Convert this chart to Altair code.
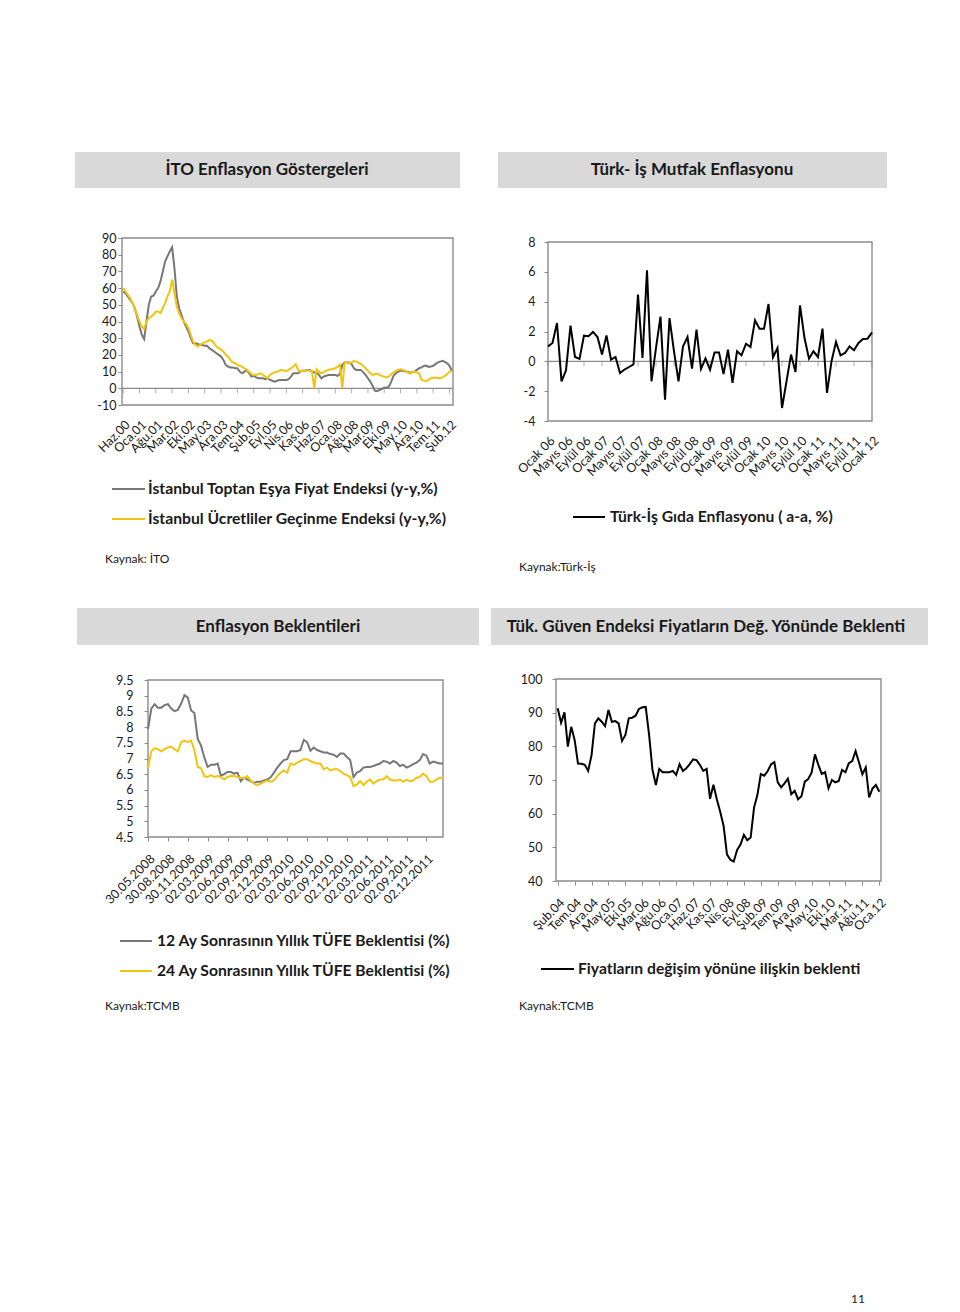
import json
import pandas as pd
import altair as alt

# ---------------- data ----------------
ito_toptan = [58, 57, 55, 53, 51, 48, 43, 37, 32, 29.5,
              40, 50, 55, 55.5, 58, 60, 64, 70, 76, 79,
              82, 84.5, 72, 55, 48, 44, 40, 37, 34, 30,
              27, 27, 26.5, 26, 26, 25.5, 25.5, 24, 23, 22,
              21, 20, 19, 17, 14, 13, 12.5, 12.5, 12, 12,
              10, 9, 10, 11, 9, 7, 7.5, 6.5, 6, 6,
              6, 5.5, 6, 5, 4.5, 4, 4.5, 5, 5, 5,
              5, 5.5, 7, 9, 9, 9, 10, 10.5, 10.5, 11,
              11, 10, 9.5, 9.5, 8, 6, 7, 7.5, 8, 8,
              8, 8, 7.5, 8.5, 14, 15.4, 15.5, 15.4, 14.5, 12,
              11, 11, 11, 9.5, 8, 6, 4, 1.5, -1.5, -1.6,
              -1, -0.5, 0.4, 0.2, 1, 4, 7.5, 9, 10, 10.5,
              10.5, 10.2, 9.8, 9.4, 9.6, 10, 11, 12, 12.5, 13.4,
              13.6, 12.8, 13, 13.5, 14.5, 15.5, 16, 16.4, 15.8, 15,
              13.4, 10.4]
ito_gecinme = [60, 58, 56, 54, 51, 48, 44, 40, 37, 35.5,
               40, 42, 43, 44, 46, 46, 45, 48, 51, 55,
               58, 65, 57, 49, 45, 42, 40, 38.5, 36, 32,
               28, 26, 25, 26, 27, 27.5, 28, 29, 28.5, 27,
               25, 24, 23, 22, 20, 19, 17, 15.5, 15, 14,
               13.5, 13, 12, 11, 10, 8.5, 8, 8, 8.5, 9,
               8, 7, 6, 8, 9, 9.5, 10, 10.5, 11, 10.5,
               10.4, 11, 12, 13, 14.4, 11, 10, 10.4, 10.5, 10.8,
               10.5, 10, 0, 11.4, 10, 9, 9.5, 10.4, 11, 11.4,
               11.6, 12, 13, 14, 0, 15.4, 15.2, 15, 15.4, 16.4,
               16, 15.4, 14.5, 13.4, 12, 10.4, 9, 8, 8.4, 8.8,
               8, 7.4, 7, 6.5, 7, 8.4, 9.5, 10.4, 11, 11.4,
               11, 10.4, 9.5, 8.8, 9.5, 10, 9.5, 8.8, 5, 4.6,
               4.4, 5, 6, 6.3, 6.4, 6.2, 6, 6.5, 7.4, 8.5,
               10, 10.4]
ito_labels = ["Haz.00", "Oca.01", "Ağu.01", "Mar.02", "Eki.02", "May.03", "Ara.03",
              "Tem.04", "Şub.05", "Eyl.05", "Nis.06", "Kas.06", "Haz.07", "Oca.08",
              "Ağu.08", "Mar.09", "Eki.09", "May.10", "Ara.10", "Tem.11", "Şub.12"]

turkis_gida = [1.0, 1.23, 2.57, -1.34, -0.6, 2.39, 0.29, 0.16, 1.72, 1.68,
               1.97, 1.63, 0.45, 1.74, 0.11, 0.29, -0.78, -0.55, -0.38, -0.2,
               4.47, 0.22, 6.1, -1.34, 0.9, 3.0, -2.57, 2.9, 0.67, -1.34,
               1.0, 1.63, -0.49, 2.12, -0.51, 0.2, -0.56, 0.6, 0.6, -0.85,
               0.78, -1.45, 0.67, 0.4, 1.18, 0.96, 2.75, 2.19, 2.19, 3.84,
               0.27, 0.89, -3.13, -1.34, 0.45, -0.71, 3.75, 1.56, 0.18, 0.67,
               0.29, 2.19, -2.12, 0.0, 1.3, 0.4, 0.56, 1.0, 0.74, 1.23,
               1.5, 1.52, 1.94]
turkis_labels = ["Ocak 06", "Mayıs 06", "Eylül 06", "Ocak 07", "Mayıs 07", "Eylül 07",
                 "Ocak 08", "Mayıs 08", "Eylül 08", "Ocak 09", "Mayıs 09", "Eylül 09",
                 "Ocak 10", "Mayıs 10", "Eylül 10", "Ocak 11", "Mayıs 11", "Eylül 11",
                 "Ocak 12"]

bek12 = [7.94, 8.59, 8.73, 8.62, 8.62, 8.70, 8.73, 8.59, 8.51, 8.55,
         8.75, 9.02, 8.94, 8.53, 8.45, 7.62, 7.41, 7.03, 6.73, 6.80,
         6.80, 6.84, 6.45, 6.50, 6.57, 6.57, 6.52, 6.55, 6.28, 6.39,
         6.33, 6.28, 6.22, 6.26, 6.26, 6.30, 6.33, 6.40, 6.55, 6.71,
         6.84, 6.95, 6.98, 7.23, 7.23, 7.23, 7.27, 7.59, 7.52, 7.25,
         7.35, 7.27, 7.23, 7.19, 7.19, 7.14, 7.12, 7.05, 7.16, 7.16,
         7.05, 6.95, 6.41, 6.55, 6.60, 6.71, 6.73, 6.73, 6.76, 6.80,
         6.84, 6.92, 6.90, 6.84, 6.92, 6.87, 6.76, 6.80, 6.71, 6.76,
         6.82, 6.87, 6.95, 7.14, 7.09, 6.84, 6.90, 6.87, 6.84, 6.84]
bek24 = [6.69, 7.23, 7.33, 7.30, 7.23, 7.30, 7.35, 7.38, 7.30, 7.23,
         7.52, 7.57, 7.52, 7.57, 7.27, 6.73, 6.69, 6.44, 6.41, 6.47,
         6.41, 6.44, 6.41, 6.33, 6.41, 6.44, 6.44, 6.41, 6.39, 6.37,
         6.44, 6.30, 6.20, 6.15, 6.20, 6.26, 6.30, 6.26, 6.30, 6.44,
         6.55, 6.62, 6.55, 6.84, 6.80, 6.87, 6.92, 6.98, 6.98, 6.92,
         6.87, 6.84, 6.84, 6.66, 6.71, 6.62, 6.66, 6.66, 6.60, 6.52,
         6.47, 6.41, 6.12, 6.17, 6.28, 6.15, 6.26, 6.33, 6.20, 6.28,
         6.33, 6.33, 6.44, 6.33, 6.30, 6.30, 6.33, 6.26, 6.33, 6.28,
         6.30, 6.39, 6.41, 6.52, 6.44, 6.26, 6.26, 6.33, 6.39, 6.39]
bek_labels = ["30.05.2008", "30.08.2008", "30.11.2008", "02.03.2009", "02.06.2009",
              "02.09.2009", "02.12.2009", "02.03.2010", "02.06.2010", "02.09.2010",
              "02.12.2010", "02.03.2011", "02.06.2011", "02.09.2011", "02.12.2011"]

guven = [91.3, 87.0, 90.1, 79.9, 85.8, 81.9, 74.9, 74.8, 74.5, 72.7,
         77.4, 86.8, 88.3, 87.3, 86.0, 90.8, 87.3, 87.5, 86.8, 81.6,
         83.4, 88.3, 88.5, 89.1, 91.1, 91.6, 91.7, 83.4, 73.0, 68.5,
         73.3, 72.3, 72.3, 72.3, 72.7, 71.5, 74.7, 72.7, 73.5, 74.7,
         76.1, 75.9, 74.5, 72.7, 73.3, 64.4, 68.6, 64.3, 60.6, 56.4,
         47.9, 46.3, 45.8, 49.2, 50.8, 53.7, 52.1, 52.9, 61.8, 65.6,
         71.8, 71.3, 72.6, 74.6, 75.3, 69.3, 67.8, 69.0, 70.4, 65.8,
         66.8, 64.3, 65.2, 69.5, 70.3, 72.2, 77.6, 74.5, 71.8, 72.3,
         67.5, 70.0, 69.3, 69.7, 73.0, 72.3, 75.0, 75.6, 78.6, 75.2,
         71.7, 73.7, 64.8, 67.5, 68.5, 66.5]
guven_labels = ["Şub.04", "Tem.04", "Ara.04", "May.05", "Eki.05", "Mar.06", "Ağu.06",
                "Oca.07", "Haz.07", "Kas.07", "Nis.08", "Eyl.08", "Şub.09", "Tem.09",
                "Ara.09", "May.10", "Eki.10", "Mar.11", "Ağu.11", "Oca.12"]

# ---------------- style ----------------
W, H = 944, 1296
M = 8  # page margin: page coordinate -> view coordinate
FONT = "Lato"
TXT = "#1a1a1a"
AXC = "#8c8c8c"
C_GRAY = "#777777"
C_YEL = "#f2c40f"
C_BLK = "#000000"
HEAD = 17
LEG = 15.7

one = pd.DataFrame({"k": [0]})

# panel geometry in page pixels (plot areas)
P1 = dict(xdom=[-0.5, 141.5], x=(122, 453), ydom=[-10, 90], y=(405, 238))
P2 = dict(xdom=[0, 72], x=(548, 872), ydom=[-4, 8], y=(421, 242))
P3 = dict(xdom=[0, 89], x=(148, 443), ydom=[4.5, 9.5], y=(837, 680))
P4 = dict(xdom=[-0.5, 95.5], x=(556, 881), ydom=[40, 100], y=(881, 679))


def sx(p):
    return alt.Scale(domain=p["xdom"], range=[p["x"][0] - M, p["x"][1] - M], nice=False, zero=False)


def sy(p):
    return alt.Scale(domain=p["ydom"], range=[p["y"][0] - M, p["y"][1] - M], nice=False, zero=False)


def xaxis(p, labels, step, size, pad, ticks):
    expr = json.dumps(labels, ensure_ascii=False) + "[round(datum.value/%d)]" % step
    return alt.Axis(orient="bottom", offset=(p["y"][0] - M) - H,
                    values=[i * step for i in range(len(labels))], labelExpr=expr,
                    labelAngle=-45, labelFontSize=size, labelPadding=pad,
                    labelOverlap=False, labelFlush=False, labelBound=False,
                    ticks=ticks, tickSize=4, tickColor=AXC, domain=False, grid=False,
                    title=None, labelColor=TXT, labelFont=FONT)


def yaxis(p, values, pad):
    return alt.Axis(orient="left", offset=-(p["x"][0] - M), values=values,
                    labelExpr="'' + datum.value",
                    labelFontSize=12.5, labelPadding=pad, ticks=True, tickSize=4,
                    tickColor=AXC, domain=False, grid=False, title=None,
                    labelColor=TXT, labelFont=FONT, labelFlush=False, labelOverlap=False)


def series(p, vals, color, width, xax=None, yax=None):
    df = pd.DataFrame({"i": list(range(len(vals))), "v": vals})
    return alt.Chart(df).mark_line(color=color, strokeWidth=width).encode(
        x=alt.X("i:Q", scale=sx(p), axis=xax),
        y=alt.Y("v:Q", scale=sy(p), axis=yax),
    )


def border(p):
    return alt.Chart(one).mark_rect(fillOpacity=0, stroke=AXC, strokeWidth=1.4).encode(
        x=alt.XDatum(p["xdom"][0], scale=sx(p), axis=None),
        x2=alt.X2Datum(p["xdom"][1]),
        y=alt.YDatum(p["ydom"][1], scale=sy(p), axis=None),
        y2=alt.Y2Datum(p["ydom"][0]),
    )


def zero_line(p):
    return alt.Chart(one).mark_rule(color=AXC, strokeWidth=1.2).encode(
        x=alt.XDatum(p["xdom"][0], scale=sx(p), axis=None),
        x2=alt.X2Datum(p["xdom"][1]),
        y=alt.YDatum(0, scale=sy(p), axis=None),
    )


def zero_ticks(p, n, step):
    df = pd.DataFrame({"t": [i * step for i in range(n)]})
    return alt.Chart(df).mark_tick(orient="vertical", size=5, thickness=1, color=AXC, yOffset=2.5).encode(
        x=alt.X("t:Q", scale=sx(p), axis=None),
        y=alt.YDatum(0, scale=sy(p), axis=None),
    )


def box(x0, x1, y0, y1):
    return alt.Chart(one).mark_rect(color="#d9d9d9").encode(
        x=alt.value(x0 - M), x2=alt.value(x1 - M), y=alt.value(y0 - M), y2=alt.value(y1 - M))


def text(s, x, y, size, bold=False, align="left"):
    return alt.Chart(one).mark_text(text=s, fontSize=size, fontWeight="bold" if bold else "normal",
                                    align=align, baseline="middle", color=TXT, font=FONT).encode(
        x=alt.value(x - M), y=alt.value(y - M))


def legline(x0, x1, y, color):
    return alt.Chart(one).mark_rule(color=color, strokeWidth=2).encode(
        x=alt.value(x0 - M), x2=alt.value(x1 - M), y=alt.value(y - M))


layers = []

# ---- panel 1: ITO ----
layers += [
    border(P1), zero_line(P1), zero_ticks(P1, len(ito_labels), 7),
    series(P1, ito_toptan, C_GRAY, 2,
           xaxis(P1, ito_labels, 7, 12.5, 13, False),
           yaxis(P1, list(range(-10, 91, 10)), 2)),
    series(P1, ito_gecinme, C_YEL, 2),
]
# ---- panel 2: Turk-Is ----
layers += [
    border(P2), zero_line(P2), zero_ticks(P2, len(turkis_labels), 4),
    series(P2, turkis_gida, C_BLK, 2,
           xaxis(P2, turkis_labels, 4, 12.5, 13, False),
           yaxis(P2, list(range(-4, 9, 2)), 9)),
]
# ---- panel 3: expectations ----
layers += [
    border(P3),
    series(P3, bek12, C_GRAY, 2,
           xaxis(P3, bek_labels, 6, 12.5, 11, True),
           yaxis(P3, [4.5 + 0.5 * k for k in range(11)], 11)),
    series(P3, bek24, C_YEL, 2),
]
# ---- panel 4: consumer confidence ----
layers += [
    border(P4),
    series(P4, guven, C_BLK, 2,
           xaxis(P4, guven_labels, 5, 12.5, 11, True),
           yaxis(P4, list(range(40, 101, 10)), 10)),
]

# ---- headers, legends, sources ----
layers += [
    box(75, 460, 152, 188), text("İTO Enflasyon Göstergeleri", 267, 170, HEAD, True, "center"),
    box(498, 887, 152, 188), text("Türk- İş Mutfak Enflasyonu", 692, 170, HEAD, True, "center"),
    legline(112, 145, 489, C_GRAY), text("İstanbul Toptan Eşya Fiyat Endeksi (y-y,%)", 148, 489, LEG, True),
    legline(112, 145, 519, C_YEL), text("İstanbul Ücretliler Geçinme Endeksi (y-y,%)", 148, 519, LEG, True),
    legline(573, 605, 517, C_BLK), text("Türk-İş Gıda Enflasyonu ( a-a, %)", 610, 517, LEG, True),
    text("Kaynak: İTO", 105, 559, 12),
    text("Kaynak:Türk-İş", 519, 567, 12),
    box(77, 479, 608, 645), text("Enflasyon Beklentileri", 278, 627, HEAD, True, "center"),
    box(491, 928, 608, 645), text("Tük. Güven Endeksi Fiyatların Değ. Yönünde Beklenti", 706, 627, HEAD, True, "center"),
    legline(120, 152, 941, C_GRAY), text("12 Ay Sonrasının Yıllık TÜFE Beklentisi (%)", 157, 941, LEG, True),
    legline(120, 152, 971, C_YEL), text("24 Ay Sonrasının Yıllık TÜFE Beklentisi (%)", 157, 971, LEG, True),
    legline(541, 574, 969, C_BLK), text("Fiyatların değişim yönüne ilişkin beklenti", 578, 969, LEG, True),
    text("Kaynak:TCMB", 105, 1006, 12),
    text("Kaynak:TCMB", 519, 1006, 12),
    text("11", 858, 1299, 12, False, "center"),
]

chart = alt.layer(*layers).resolve_scale(x="independent", y="independent").properties(
    width=W, height=H, padding=0
).configure(font=FONT).configure_view(strokeWidth=0, stroke="transparent")

chart.save("out.html", embed_options={"renderer": "svg", "actions": False})
